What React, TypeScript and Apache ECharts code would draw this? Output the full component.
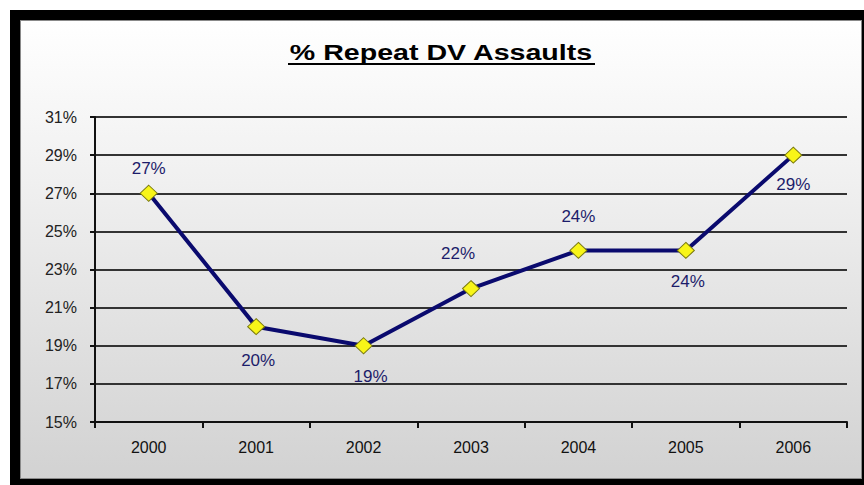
import React, { useEffect, useRef } from "react";
import * as echarts from "echarts";

const categories = ["2000", "2001", "2002", "2003", "2004", "2005", "2006"];
const repeatPct = [27, 20, 19, 22, 24, 24, 29];
const yMin = 15;
const yMax = 31;
const yStep = 2;
const titleText = "% Repeat DV Assaults";

// label placement per point (style only)
const labelPlacement = [
  { position: "top", distance: 8, offset: [0, 0] },
  { position: "bottom", distance: 17, offset: [2, 0] },
  { position: "bottom", distance: 14, offset: [7, 0] },
  { position: "top", distance: 18, offset: [-13, 0] },
  { position: "top", distance: 17, offset: [0, 0] },
  { position: "bottom", distance: 14, offset: [2, 0] },
  { position: "bottom", distance: 12, offset: [0, 0] },
];

export default function App() {
  const ref = useRef<HTMLDivElement>(null);

  useEffect(() => {
    if (!ref.current) return;
    const chart = echarts.init(ref.current, null, { renderer: "svg" });
    const seriesData = repeatPct.map((v, i) => ({
      value: v,
      label: {
        position: labelPlacement[i].position as any,
        distance: labelPlacement[i].distance,
        offset: labelPlacement[i].offset,
      },
    }));
    chart.setOption({
      animation: false,
      backgroundColor: "transparent",
      graphic: [
        {
          type: "text",
          x: 441,
          y: 52,
          scaleX: 1.3,
          style: {
            text: titleText,
            font: "bold 22px Arial, 'Liberation Sans', sans-serif",
            fill: "#000",
            textAlign: "center",
            textVerticalAlign: "middle",
          },
        },
        {
          type: "line",
          shape: { x1: 288, y1: 64, x2: 595, y2: 64 },
          style: { stroke: "#000", lineWidth: 2 },
        },
      ],
      grid: { left: 95, right: 17, top: 117, bottom: 63 },
      xAxis: {
        type: "category",
        data: categories,
        boundaryGap: true,
        axisLine: { show: true, lineStyle: { color: "#111", width: 2 } },
        axisTick: { show: true, length: 6, inside: false, lineStyle: { color: "#111", width: 2 } },
        axisLabel: {
          color: "#111",
          fontSize: 16,
          fontFamily: "Arial, 'Liberation Sans', sans-serif",
          margin: 17,
        },
        splitLine: { show: false },
      },
      yAxis: {
        type: "value",
        min: yMin,
        max: yMax,
        interval: yStep,
        axisLine: { show: true, lineStyle: { color: "#111", width: 2 } },
        axisTick: { show: true, length: 5, lineStyle: { color: "#111", width: 2 } },
        axisLabel: {
          color: "#222",
          fontSize: 16,
          fontFamily: "Arial, 'Liberation Sans', sans-serif",
          margin: 18,
          formatter: "{value}%",
        },
        splitLine: { show: true, lineStyle: { color: "#333", width: 2 } },
      },
      series: [
        {
          type: "line",
          data: seriesData,
          lineStyle: { color: "#0a0a6e", width: 4 },
          symbol: "diamond",
          symbolSize: [17, 16],
          itemStyle: { color: "#f8f518", borderColor: "#7a7a10", borderWidth: 1 },
          label: {
            show: true,
            formatter: "{c}%",
            color: "#1c1c6a",
            fontSize: 17,
            fontFamily: "Arial, 'Liberation Sans', sans-serif",
          },
          z: 5,
        },
      ],
    });
    return () => chart.dispose();
  }, []);

  return (
    <div
      style={{
        position: "fixed",
        left: 0,
        top: 0,
        width: 864,
        height: 485,
        background: "#fff",
        overflow: "hidden",
      }}
    >
      <div
        style={{
          position: "absolute",
          left: 10,
          top: 10,
          width: 854,
          height: 475,
          background: "#000",
        }}
      />
      <div
        style={{
          position: "absolute",
          left: 20,
          top: 20,
          width: 842,
          height: 459,
          boxSizing: "border-box",
          border: "1px solid #8a8a8a",
          background: "linear-gradient(to bottom, #ffffff 0%, #f0f0f0 35%, #d2d2d2 100%)",
        }}
      />
      <div ref={ref} style={{ position: "absolute", left: 0, top: 0, width: 864, height: 485 }} />
    </div>
  );
}
